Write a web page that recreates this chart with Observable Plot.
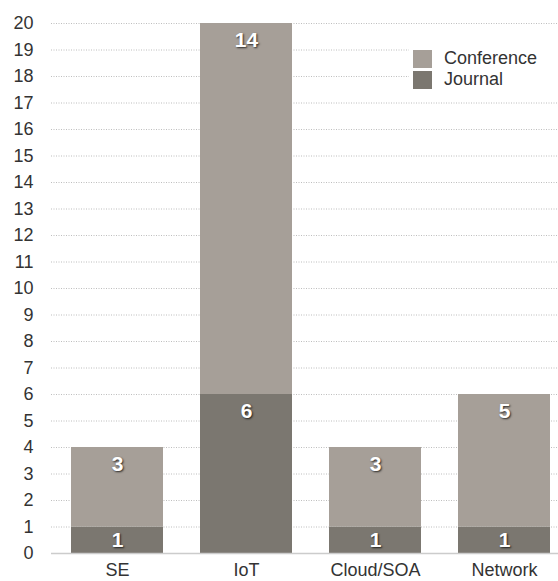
<!DOCTYPE html>
<html>
<head>
<meta charset="utf-8">
<script src="https://cdn.jsdelivr.net/npm/d3@7"></script>
<script src="https://cdn.jsdelivr.net/npm/@observablehq/plot@0.6"></script>
<style>
  body { margin: 0; background: #fff; font-family: "Liberation Sans", Arial, Helvetica, sans-serif; }
  #wrap { position: relative; width: 558px; height: 581px; }
  .lbl text { text-shadow: 1px 1px 2px rgba(0,0,0,0.75); }
  #legend { position: absolute; left: 409px; top: 44px; background: #fff; padding: 4px 0 4px 4px; width: 145px; }
  #legend .row { display: flex; align-items: center; height: 21px; font-size: 18px; color: #333; }
  #legend .sw { width: 19px; height: 18px; margin-right: 12px; }
</style>
</head>
<body>
<div id="wrap"></div>
<script>
const categories = ["SE", "IoT", "Cloud/SOA", "Network"];
const journal = [1, 6, 1, 1];
const conference = [3, 14, 3, 5];
const seriesNames = ["Conference", "Journal"];
const seriesColors = ["#a69f98", "#7b7770"];
const yTicks = [0,1,2,3,4,5,6,7,8,9,10,11,12,13,14,15,16,17,18,19,20];

const rows = [];
categories.forEach((c, i) => rows.push({category: c, type: "Journal", y1: 0, y2: journal[i], value: journal[i]}));
categories.forEach((c, i) => rows.push({category: c, type: "Conference", y1: journal[i], y2: journal[i] + conference[i], value: conference[i]}));

const chart = Plot.plot({
  width: 558,
  height: 581,
  marginLeft: 51,
  marginRight: 0,
  marginTop: 23,
  marginBottom: 28,
  style: {fontFamily: '"Liberation Sans", Arial, Helvetica, sans-serif', color: "#333", background: "#fff"},
  x: {domain: categories, range: [70, 550], paddingInner: 0.289, paddingOuter: 0, label: null},
  y: {domain: [0, 20], label: null},
  color: {domain: seriesNames, range: seriesColors},
  marks: [
    Plot.gridY(yTicks.filter(t => t > 0), {stroke: "#999", strokeOpacity: 0.8, strokeDasharray: "1,1.5", strokeWidth: 0.8}),
    Plot.barY(rows, {x: "category", y1: "y1", y2: "y2", fill: "type", inset: 0}),
    Plot.ruleY([0], {stroke: "#ccc", strokeWidth: 1.5}),
    Plot.text(rows, {
      x: "category",
      y: d => d.y2 - Math.min(0.64, d.value / 2),
      text: d => String(d.value),
      fill: "#fff",
      fontSize: 21,
      fontWeight: "bold",
      className: "lbl"
    }),
    Plot.axisY(yTicks, {tickSize: 0, tickPadding: 18, fontSize: 18, fill: "#333"}),
    Plot.axisX({tickSize: 0, tickPadding: 10, fontSize: 18, fill: "#333"})
  ]
});

const wrap = document.getElementById("wrap");
wrap.appendChild(chart);

const legend = document.createElement("div");
legend.id = "legend";
seriesNames.forEach((name, i) => {
  const row = document.createElement("div");
  row.className = "row";
  const sw = document.createElement("span");
  sw.className = "sw";
  sw.style.background = seriesColors[i];
  const t = document.createElement("span");
  t.textContent = name;
  row.appendChild(sw);
  row.appendChild(t);
  legend.appendChild(row);
});
wrap.appendChild(legend);
</script>
</body>
</html>
